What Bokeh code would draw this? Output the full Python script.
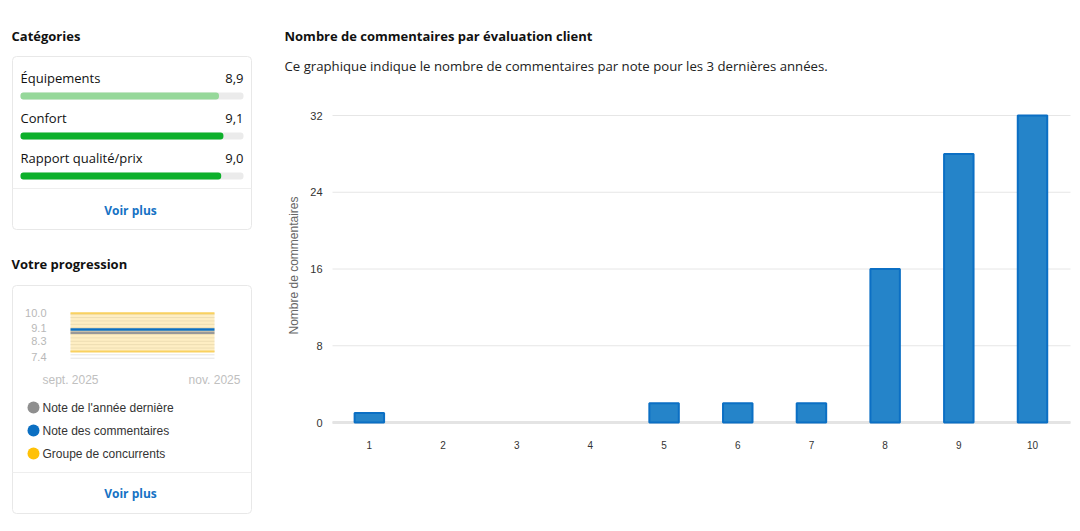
import math
from bokeh.plotting import figure
from bokeh.layouts import row
from bokeh.models import Range1d
from bokeh.core.properties import value
from bokeh.embed import file_html
from bokeh.resources import INLINE

# ---------------- data ----------------
category_names = ["Équipements", "Confort", "Rapport qualité/prix"]
category_scores = [8.9, 9.1, 9.0]
category_score_labels = ["8,9", "9,1", "9,0"]
category_colors = ["#96d89a", "#0db02b", "#0db02b"]
score_max = 10

progress_months = [0, 1, 2]                  # sept., oct., nov. 2025
progress_month_labels = ["sept. 2025", "nov. 2025"]
progress_month_label_pos = [0, 2]
last_year_score = [8.8, 8.8, 8.8]
review_score = [9.0, 9.0, 9.0]
competitor_low = [7.7, 7.7, 7.7]
competitor_high = [9.95, 9.95, 9.95]
progress_ticks = [10.0, 9.1, 8.3, 7.4]
progress_tick_labels = ["10.0", "9.1", "8.3", "7.4"]
progress_grid = [7.3, 7.5, 7.7, 7.9, 8.1, 8.3, 8.5, 8.7, 8.9, 9.1, 9.3, 9.5, 9.7, 9.9]
legend_labels = ["Note de l'année dernière", "Note des commentaires", "Groupe de concurrents"]
legend_colors = ["#8f8f8f", "#0b6fc2", "#ffc107"]

ratings = [1, 2, 3, 4, 5, 6, 7, 8, 9, 10]
rating_labels = ["1", "2", "3", "4", "5", "6", "7", "8", "9", "10"]
comment_counts = [1, 0, 0, 0, 2, 2, 2, 16, 28, 32]
count_ticks = [0, 8, 16, 24, 32]
count_tick_labels = ["0", "8", "16", "24", "32"]

UI_FONT = "Open Sans"
CHART_FONT = "Liberation Sans"
H = 528


class Axis1D:
    """Linear map between values and canvas pixels, used to build a Range1d."""

    def __init__(self, v0, p0, v1, p1, size, vertical=False):
        self.k = (v1 - v0) / (p1 - p0)
        self.v0, self.p0, self.size, self.vertical = v0, p0, size, vertical

    def val(self, p):
        return self.v0 + (p - self.p0) * self.k

    def range(self):
        a, b = self.val(0), self.val(self.size)
        return Range1d(start=b, end=a) if self.vertical else Range1d(start=a, end=b)


def canvas(width):
    f = figure(width=width, height=H, x_range=Range1d(0, width), y_range=Range1d(H, 0),
               x_axis_type=None, y_axis_type=None, toolbar_location=None,
               output_backend="svg", min_border=0, outline_line_color=None)
    return f


# ---------------- left panel ----------------
W_L = 274
left = canvas(W_L)
score_ax = Axis1D(0, 20, score_max, 243, W_L)
month_ax = Axis1D(0, 70, 2, 214, W_L)
prog_ax = Axis1D(10.0, 312, 7.4, 356, H, vertical=True)
left.extra_x_ranges = {"score": score_ax.range(), "month": month_ax.range()}
left.extra_y_ranges = {"prog": prog_ax.range()}

# cards
left.quad(left=[12, 12], right=[251, 251], top=[56, 285], bottom=[229, 513],
          fill_color="white", line_color="#e8e8e8", line_width=1, border_radius=4)
left.segment(x0=[12, 12], x1=[251, 251], y0=[188, 472], y1=[188, 472], line_color="#eeeeee", line_width=1)

# headings
left.text(x=[11, 11], y=[35.5, 263.5], text=["Catégories", "Votre progression"],
          text_font=value(UI_FONT), text_font_size=value("13px"), text_font_style="bold",
          text_color="#111111", text_baseline="middle", text_align="left")

# category rows
row_y = [77.5, 117.5, 157.5]
bar_y = [95.5, 135.5, 175.5]
left.text(x=[20] * 3, y=row_y, text=category_names, text_font=value(UI_FONT),
          text_font_size=value("13px"), text_color="#111111", text_baseline="middle", text_align="left")
left.text(x=[243] * 3, y=row_y, text=category_score_labels, text_font=value(UI_FONT),
          text_font_size=value("13px"), text_color="#111111", text_baseline="middle", text_align="right")
left.hbar(y=bar_y, left=0, right=[score_max] * 3, height=7, x_range_name="score",
          fill_color="#ebebeb", line_color=None, border_radius=3)
left.hbar(y=bar_y, left=0, right=category_scores, height=7, x_range_name="score",
          fill_color=category_colors, line_color=None, border_radius=3)

# voir plus
left.text(x=[130, 130], y=[209.5, 492.5], text=["Voir plus", "Voir plus"], text_font=value(UI_FONT),
          text_font_size=value("12px"), text_font_style="bold", text_color="#1672c4",
          text_baseline="middle", text_align="center")

# mini progression chart
n = len(progress_grid)
left.segment(x0=[progress_months[0]] * n, x1=[progress_months[-1]] * n, y0=progress_grid, y1=progress_grid,
             x_range_name="month", y_range_name="prog", line_color="#e4e4e4", line_width=1)
left.varea(x=progress_months, y1=competitor_low, y2=competitor_high, x_range_name="month",
           y_range_name="prog", fill_color="#fdd56a", fill_alpha=0.4)
left.line(x=progress_months, y=competitor_high, x_range_name="month", y_range_name="prog",
          line_color="#f9d160", line_width=2)
left.line(x=progress_months, y=competitor_low, x_range_name="month", y_range_name="prog",
          line_color="#f9d160", line_width=2)
left.line(x=progress_months, y=last_year_score, x_range_name="month", y_range_name="prog",
          line_color="#999999", line_width=2.5)
left.line(x=progress_months, y=review_score, x_range_name="month", y_range_name="prog",
          line_color="#0b6fc2", line_width=2.5)
left.text(x=[46] * len(progress_ticks), y=progress_ticks, text=progress_tick_labels, y_range_name="prog",
          text_font=value(CHART_FONT), text_font_size=value("11px"), text_color="#b8b8b8",
          text_baseline="middle", text_align="right")
left.text(x=progress_month_label_pos, y=[379, 379], text=progress_month_labels, x_range_name="month",
          text_font=value(CHART_FONT), text_font_size=value("12px"), text_color="#c0c0c0",
          text_baseline="middle", text_align="center")

# legend
legend_y = [407, 430, 453]
left.scatter(x=[33] * 3, y=legend_y, size=12, fill_color=legend_colors, line_color=None)
left.text(x=[42] * 3, y=legend_y, text=legend_labels, text_font=value(CHART_FONT),
          text_font_size=value("12px"), text_color="#333333", text_baseline="middle", text_align="left")

# ---------------- main bar chart ----------------
X0 = 274
W_M = 802
rating_ax = Axis1D(ratings[0], 368.85 - X0, ratings[-1], 1032 - X0, W_M)
count_ax = Axis1D(count_ticks[0], 422, count_ticks[-1], 115, H, vertical=True)

main = figure(width=W_M, height=H, x_range=rating_ax.range(), y_range=count_ax.range(),
              x_axis_type=None, y_axis_type=None, toolbar_location=None,
              output_backend="svg", min_border=0, outline_line_color=None)

gx0, gx1 = rating_ax.val(332 - X0), rating_ax.val(1070 - X0)
m = len(count_ticks)
main.segment(x0=[gx0] * m, x1=[gx1] * m, y0=count_ticks, y1=count_ticks,
             line_color="#e6e6e6", line_width=1)
main.segment(x0=[gx0], x1=[gx1], y0=[count_ticks[0]], y1=[count_ticks[0]],
             line_color="#e4e4e4", line_width=3)

bar_line_alpha = [1.0 if c > 0 else 0.0 for c in comment_counts]
main.vbar(x=ratings, top=comment_counts, bottom=0, width=0.4, fill_color="#2584c9",
          line_color="#0b6fc4", line_width=2, line_alpha=bar_line_alpha)

# tick labels
main.text(x=[rating_ax.val(322 - X0)] * m, y=count_ticks, text=count_tick_labels,
          text_font=value(CHART_FONT), text_font_size=value("11px"), text_color="#333333",
          text_baseline="middle", text_align="right")
main.text(x=ratings, y=[count_ax.val(444)] * len(ratings), text=rating_labels,
          text_font=value(CHART_FONT), text_font_size=value("10px"), text_color="#333333",
          text_baseline="middle", text_align="center")
main.text(x=[rating_ax.val(293 - X0)], y=[count_ax.val(265)], text=["Nombre de commentaires"],
          angle=math.pi / 2, text_font=value(CHART_FONT), text_font_size=value("12px"),
          text_color="#666666", text_baseline="middle", text_align="center")

# titles
main.text(x=[rating_ax.val(284 - X0)], y=[count_ax.val(35.5)],
          text=["Nombre de commentaires par évaluation client"],
          text_font=value(UI_FONT), text_font_size=value("13px"), text_font_style="bold",
          text_color="#111111", text_baseline="middle", text_align="left")
main.text(x=[rating_ax.val(284 - X0)], y=[count_ax.val(65.5)],
          text=["Ce graphique indique le nombre de commentaires par note pour les 3 dernières années."],
          text_font=value(UI_FONT), text_font_size=value("13.2px"),
          text_color="#222222", text_baseline="middle", text_align="left")

layout = row(left, main)
open("out.html", "w").write(file_html(layout, INLINE))
